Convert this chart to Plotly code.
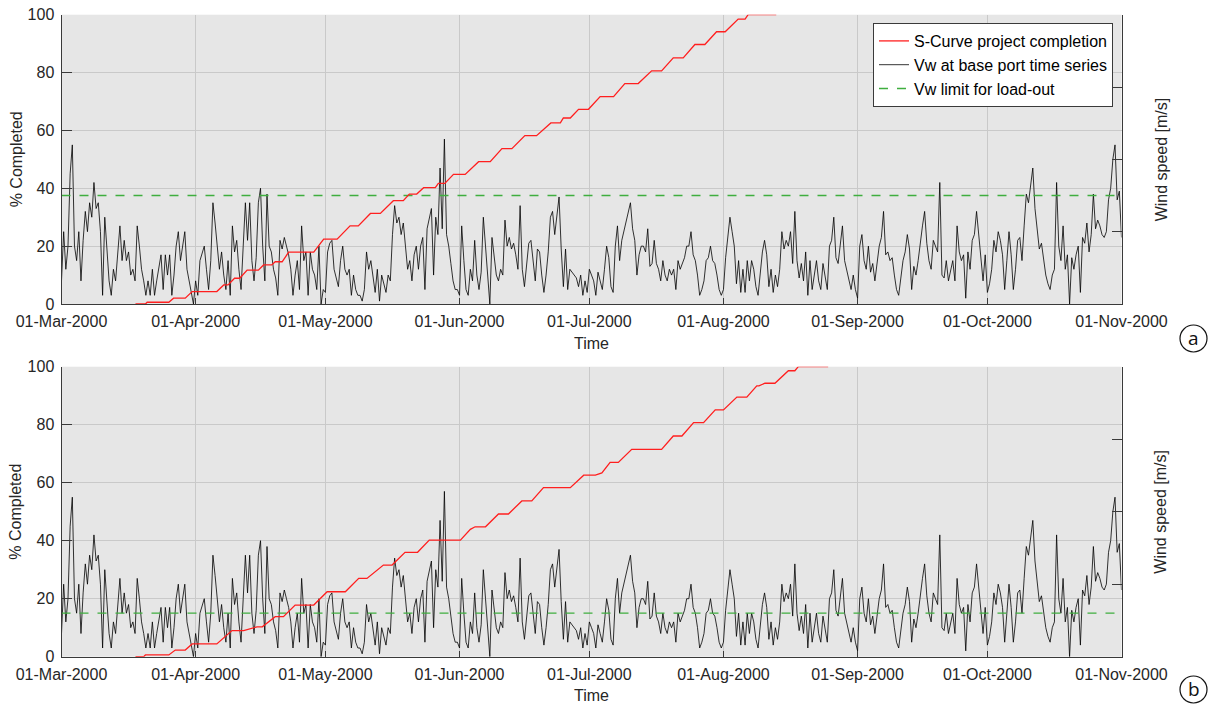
import pandas as pd
import plotly.graph_objects as go

START = pd.Timestamp("2000-03-01")
END = pd.Timestamp("2000-11-01")

# Month ticks on the time axis
month_ticks = pd.date_range(START, END, freq="MS")
month_labels = [d.strftime("%d-%b-%Y") for d in month_ticks]

# Wind speed at the base port [m/s], one value every 12 hours from 01-Mar-2000
wind_speed = [
    1.6, 5.0, 2.4, 4.0, 9.0, 11.0, 4.0, 3.0, 5.0, 1.6,
    4.4, 6.4, 5.0, 7.0, 6.0, 8.4, 6.6, 7.0, 5.0, 0.6,
    6.0, 4.0, 1.6, 0.6, 2.4, 1.6, 3.6, 5.4, 3.0, 4.4,
    3.0, 3.6, 2.0, 2.4, 1.6, 5.4, 4.0, 2.4, 1.6, 0.6,
    1.6, 0.6, 2.4, 0.6, 1.6, 2.4, 3.4, 1.0, 3.4, 2.0,
    3.4, 0.6, 2.0, 4.0, 5.0, 3.0, 4.0, 5.0, 2.4, 1.6,
    0.6, 0.0, 1.6, 0.6, 3.0, 3.6, 4.0, 2.4, 1.0, 3.0,
    7.0, 5.6, 4.0, 2.4, 3.6, 2.0, 1.0, 3.0, 0.6, 5.4,
    3.6, 4.4,
    2.4, 1.0, 4.0, 7.0, 4.4, 7.0, 3.0, 1.6, 3.2, 7.0,
    8.0, 4.0, 1.6, 7.6, 4.0, 3.6, 2.4, 1.8, 0.6, 4.4,
    3.8, 4.6, 4.0, 3.4, 2.4, 0.6, 2.0, 3.0, 1.0, 5.4,
    3.0, 3.6, 0.6, 3.6, 2.4, 2.0, 1.0, 4.0, 0.0, 1.0,
    0.8, 3.6, 4.2, 4.4, 2.4, 1.8, 1.2, 3.0, 4.0, 2.4,
    2.0, 2.4, 0.6, 2.0, 1.0, 0.6, 0.6, 0.2, 1.0, 3.6,
    2.4, 3.0, 2.0, 0.8, 2.4, 0.2, 2.0, 1.4, 0.8, 2.0,
    1.6, 4.8, 6.8, 5.6, 6.0, 4.8, 5.6, 4.0, 2.4, 3.0,
    1.6, 3.4,
    4.0, 2.4, 4.0, 4.6, 1.0, 5.2, 6.0, 6.6, 2.0, 6.0,
    4.8, 9.4, 5.2, 11.4, 4.8, 4.0, 2.8, 1.6, 1.0, 1.0,
    0.6, 5.4, 3.0, 1.0, 0.6, 2.4, 1.6, 4.4, 2.0, 1.0,
    2.2, 6.0, 4.0, 2.0, 0.0, 4.6, 3.2, 2.0, 1.6, 2.4,
    2.0, 5.8, 4.0, 4.6, 3.8, 4.2, 3.4, 2.4, 6.8, 2.4,
    1.2, 2.8, 4.2, 4.4, 3.0, 1.6, 3.8, 3.6, 2.0, 0.8,
    2.0, 3.6, 6.0, 6.4, 4.8, 6.0, 7.4, 3.8, 1.2, 3.8,
    1.0, 2.4, 2.2, 2.0, 1.8, 1.2, 2.0, 0.6, 1.6, 0.8,
    2.4, 2.0,
    1.6, 0.6, 2.2, 1.6, 1.0, 2.4, 4.0, 3.2, 1.2, 0.8,
    4.0, 5.4, 3.0, 4.4, 5.0, 5.6, 6.2, 7.0, 5.2, 4.4,
    2.0, 3.4, 4.0, 4.0, 3.6, 5.2, 2.6, 2.8, 4.4, 2.8,
    2.4, 1.6, 3.0, 2.0, 1.6, 2.4, 2.0, 2.4, 1.0, 3.0,
    2.4, 2.8, 3.2, 4.0, 4.0, 5.0, 3.4, 3.0, 2.0, 0.6,
    1.0, 1.6, 3.0, 3.2, 4.0, 3.0, 2.8, 2.0, 1.0, 0.6,
    1.0, 3.2, 4.4, 6.0, 5.0, 4.0, 1.4, 3.0, 0.8, 2.4,
    0.8, 3.0, 1.6, 3.0, 2.4, 1.2, 0.6, 2.0, 3.6, 4.4,
    3.4,
    1.2, 2.4, 0.8, 2.0, 1.2, 2.4, 5.0, 3.8, 4.4, 4.0,
    5.0, 2.8, 6.4, 3.0, 1.8, 2.8, 1.6, 3.6, 0.6, 3.0,
    1.0, 2.0, 3.0, 1.6, 1.0, 2.8, 2.0, 1.0, 4.0, 4.4,
    6.0, 3.2, 2.8, 4.0, 5.4, 3.0, 2.4, 1.6, 1.0, 2.0,
    1.0, 0.4, 4.0, 4.8, 3.0, 2.4, 4.0, 2.2, 2.8, 1.6,
    3.0, 4.0, 4.6, 6.4, 3.4, 3.6, 3.0, 3.2, 2.0, 1.0,
    0.6, 2.0, 3.0, 3.6, 4.8, 3.8, 1.0, 2.6, 2.0, 3.0,
    4.4, 5.4, 6.4, 4.2, 3.0, 2.4, 4.4, 4.0, 3.6, 8.4,
    2.0, 1.8,
    3.0, 1.6, 2.4, 3.0, 1.6, 5.4, 3.6, 3.0, 3.4, 0.4,
    3.6, 2.4, 4.4, 4.8, 6.4, 4.8, 3.0, 1.6, 3.4, 0.8,
    1.4, 2.4, 4.4, 3.6, 5.0, 4.4, 3.4, 1.0, 3.0, 5.0,
    3.4, 1.0, 2.4, 4.4, 4.6, 3.0, 5.4, 7.6, 7.0, 8.4,
    9.4, 6.6, 5.4, 3.8, 4.2, 3.2, 2.0, 1.4, 1.0, 2.0,
    2.4, 8.4, 4.0, 3.0, 5.4, 2.4, 3.4, 0.0, 3.2, 2.4,
    3.4, 4.0, 0.8, 4.6, 4.2, 5.6, 3.6, 4.8, 7.6, 5.2,
    5.8, 5.4, 4.8, 4.6, 5.0, 7.2, 8.0, 10.0, 11.0, 7.2,
    7.8, 4.6,
]
wind_time = pd.date_range(START, periods=len(wind_speed), freq="12h")

# Wind speed limits for the load-out operation [m/s]
vw_limit_a = 7.5
vw_limit_b = 3.0

# S-curve of project completion (days after 01-Mar-2000, % completed)
scurve_a_day = [17.1, 19.4, 19.8, 24.8, 25.9, 28.6, 30.2, 35.9, 37.5, 38.5,
                40.0, 41.2, 42.9, 45.5, 46.7, 48.6, 49.4, 51.0, 52.5, 58.3,
                60.6, 63.7, 66.7, 68.6, 71.4, 73.7, 76.7, 79.0, 80.4, 82.1,
                83.7, 86.4, 87.1, 88.6, 90.6, 93.3, 96.4, 99.1, 101.8, 104.1,
                107.1, 109.8, 113.1, 115.3, 116.0, 117.6, 119.5, 121.8, 124.5, 127.6,
                130.2, 133.3, 136.4, 138.7, 141.4, 143.7, 146.4, 148.7, 151.4, 153.4,
                156.4, 158.0, 158.7, 165.2]
scurve_a_pct = [0.0, 0.0, 0.6, 0.6, 2.0, 2.0, 4.3, 4.3, 6.6, 6.6,
                8.9, 8.9, 11.7, 11.7, 13.5, 13.5, 14.6, 14.6, 17.9, 17.9,
                22.4, 22.4, 27.0, 27.0, 31.3, 31.3, 35.7, 35.7, 38.0, 38.0,
                40.2, 40.2, 41.7, 41.7, 44.8, 44.8, 49.2, 49.2, 53.7, 53.7,
                58.2, 58.2, 62.6, 62.6, 64.3, 64.3, 67.3, 67.3, 71.7, 71.7,
                76.2, 76.2, 80.6, 80.6, 85.1, 85.1, 89.7, 89.7, 94.1, 94.1,
                98.5, 98.5, 100.0, 100.0]

scurve_b_day = [17.1, 19.0, 19.4, 24.8, 26.3, 28.6, 30.2, 35.9, 39.4, 42.1,
                45.2, 46.4, 49.4, 51.3, 54.0, 58.3, 61.4, 65.6, 68.7, 70.6,
                74.4, 76.4, 79.4, 82.3, 85.0, 92.2, 94.5, 95.6, 98.0, 101.0,
                103.3, 106.4, 108.7, 111.4, 117.6, 120.7, 123.4, 124.9, 126.8, 128.7,
                131.8, 138.7, 141.4, 143.4, 146.1, 148.4, 151.1, 153.0, 156.1, 158.4,
                160.7, 161.2, 162.6, 164.9, 168.0, 169.5, 170.3, 177.2]
scurve_b_pct = [0.0, 0.0, 0.6, 0.6, 2.3, 2.3, 4.4, 4.4, 9.0, 9.0,
                10.3, 10.3, 13.8, 13.8, 17.8, 17.8, 22.4, 22.4, 27.0, 27.0,
                31.6, 31.6, 36.0, 36.0, 40.2, 40.2, 43.9, 44.8, 44.8, 49.2,
                49.2, 53.7, 53.7, 58.3, 58.3, 62.6, 62.6, 63.4, 67.0, 67.0,
                71.5, 71.5, 76.1, 76.1, 80.7, 80.7, 85.1, 85.1, 89.5, 89.5,
                93.4, 93.4, 94.3, 94.3, 98.6, 98.6, 100.0, 100.0]

FONT = "Liberation Sans, Arial, Helvetica, sans-serif"
TXT = "#262626"
AXIS = "#3a3a3a"
GRID = "#c9c9c9"
W, H = 1212, 704
FS = 16

# Plot areas in pixels: left, right, top, bottom
X_L, X_R = 61.5, 1121.5
PANELS = [
    dict(top=14.7, bottom=304.0, xa="x", wind="y", pct="y2", limit=vw_limit_a,
         days=scurve_a_day, pct_vals=scurve_a_pct, legend=True, tag="a", tag_y=338.5, time_y=343),
    dict(top=366.7, bottom=656.7, xa="x2", wind="y3", pct="y4", limit=vw_limit_b,
         days=scurve_b_day, pct_vals=scurve_b_pct, legend=False, tag="b", tag_y=689.5, time_y=695),
]

fig = go.Figure()
for p in PANELS:
    s_time = START + pd.to_timedelta(p["days"], unit="D")
    fig.add_trace(go.Scatter(
        x=s_time, y=p["pct_vals"], mode="lines", name="S-Curve project completion",
        line=dict(color="#ff1f1f", width=1.3), xaxis=p["xa"], yaxis=p["pct"],
        showlegend=p["legend"], legendrank=1))
    fig.add_trace(go.Scatter(
        x=wind_time, y=wind_speed, mode="lines", name="Vw at base port time series",
        line=dict(color="#000000", width=0.8), xaxis=p["xa"], yaxis=p["wind"],
        showlegend=p["legend"], legendrank=2))
    fig.add_trace(go.Scatter(
        x=[START, END], y=[p["limit"], p["limit"]], mode="lines", name="Vw limit for load-out",
        line=dict(color="#3fae3f", width=1.3, dash="dash"), xaxis=p["xa"], yaxis=p["wind"],
        showlegend=p["legend"], legendrank=3))

xdom = [X_L / W, X_R / W]
tickfont = dict(family=FONT, size=FS, color=TXT)
layout_axes = {}
for i, p in enumerate(PANELS):
    ydom = [1 - p["bottom"] / H, 1 - p["top"] / H]
    xkey = "xaxis" if i == 0 else "xaxis2"
    wkey = "yaxis" if i == 0 else "yaxis3"
    pkey = "yaxis2" if i == 0 else "yaxis4"
    layout_axes[xkey] = dict(
        domain=xdom, anchor=p["wind"], type="date", range=[START, END],
        tickvals=month_ticks, ticktext=month_labels, tickfont=tickfont,
        ticks="inside", ticklen=6, tickcolor=AXIS, showgrid=True, gridcolor=GRID,
        showline=True, linecolor=AXIS, linewidth=1, zeroline=False, ticklabelstandoff=3,
        automargin=False)
    layout_axes[wkey] = dict(
        domain=ydom, anchor=p["xa"], side="right", range=[0, 20], tick0=0, dtick=5,
        ticks="inside", ticklen=10, tickcolor=AXIS, showticklabels=False,
        showgrid=False, zeroline=False, showline=True, linecolor=AXIS, linewidth=1,
        automargin=False)
    layout_axes[pkey] = dict(
        overlaying=p["wind"], anchor=p["xa"], side="left", range=[0, 100], tick0=0, dtick=20,
        ticks="inside", ticklen=10, tickcolor=AXIS, tickfont=tickfont,
        showgrid=True, gridcolor=GRID, zeroline=False, showline=True, linecolor=AXIS,
        linewidth=1, ticklabelstandoff=3, automargin=False)

annotations = []
shapes = []
title_font = dict(family=FONT, size=FS, color=TXT)
for p in PANELS:
    ymid = 1 - (p["top"] + p["bottom"]) / 2 / H
    annotations.append(dict(text="% Completed", x=16 / W, y=ymid, xref="paper", yref="paper",
                            xanchor="center", yanchor="middle", textangle=-90,
                            showarrow=False, font=title_font))
    annotations.append(dict(text="Wind speed [m/s]", x=1161 / W, y=ymid, xref="paper", yref="paper",
                            xanchor="center", yanchor="middle", textangle=-90,
                            showarrow=False, font=title_font))
    annotations.append(dict(text="Time", x=(X_L + X_R) / 2 / W, y=1 - p["time_y"] / H,
                            xref="paper", yref="paper", xanchor="center", yanchor="middle",
                            showarrow=False, font=title_font))
    cx, cy, r = 1193.5, p["tag_y"], 13.5
    shapes.append(dict(type="circle", xref="paper", yref="paper",
                       x0=(cx - r) / W, x1=(cx + r) / W, y0=1 - (cy + r) / H, y1=1 - (cy - r) / H,
                       line=dict(color="#111111", width=1.2)))
    annotations.append(dict(text=p["tag"], x=cx / W, y=1 - (cy - 1) / H, xref="paper", yref="paper",
                            xanchor="center", yanchor="middle", showarrow=False,
                            font=dict(family="Open Sans, DejaVu Sans, sans-serif",
                                      size=19, color="#111111")))

fig.update_layout(
    template="none",
    width=W, height=H, autosize=False, margin=dict(l=0, r=0, t=0, b=0, pad=0),
    paper_bgcolor="white", plot_bgcolor="#e6e6e6",
    font=dict(family=FONT, size=FS, color=TXT),
    showlegend=True,
    legend=dict(x=1113 / W, y=1 - 23 / H, xanchor="right", yanchor="top",
                bgcolor="white", bordercolor=AXIS, borderwidth=1,
                font=dict(family=FONT, size=FS, color="#000000"),
                tracegroupgap=0, itemwidth=30, traceorder="normal"),
    annotations=annotations, shapes=shapes,
    **layout_axes,
)

fig.write_html("out.html")
